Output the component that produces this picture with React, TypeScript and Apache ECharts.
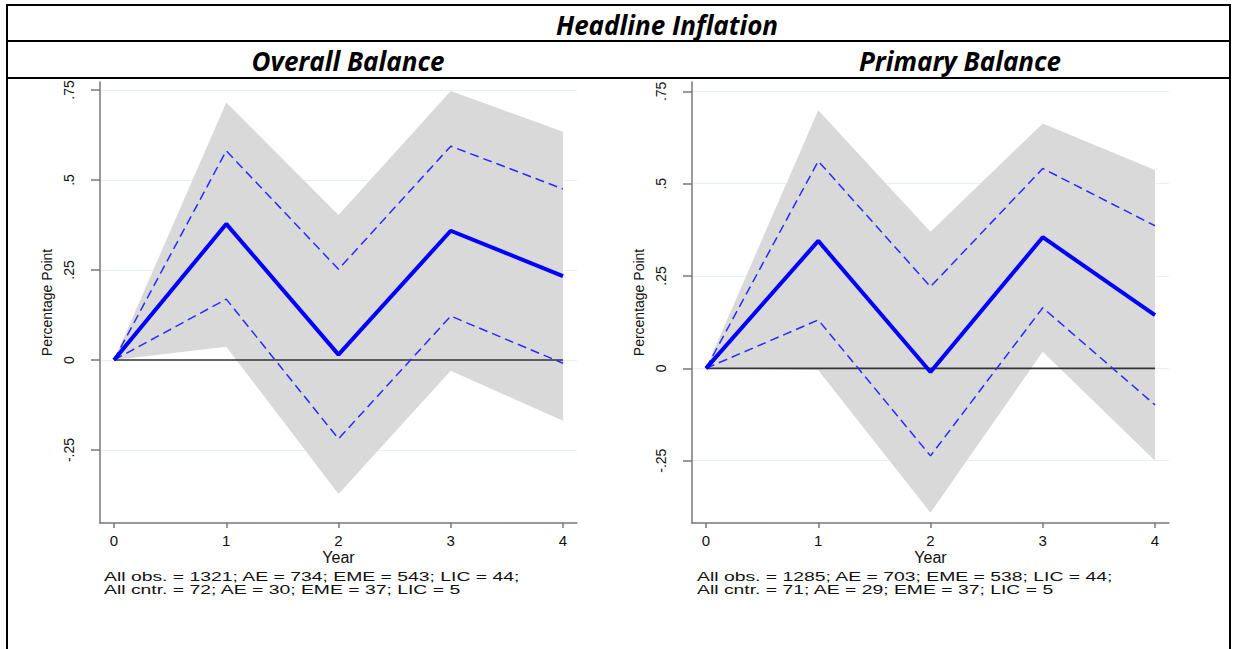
import React, { useEffect, useRef } from "react";
import * as echarts from "echarts";

// ---- data ----
const years = [0, 1, 2, 3, 4];
const yTicks = [-0.25, 0, 0.25, 0.5, 0.75];

const obMain = [0, 0.378, 0.015, 0.359, 0.233];
const obUpper68 = [0, 0.581, 0.252, 0.594, 0.475];
const obLower68 = [0, 0.169, -0.219, 0.122, -0.009];
const obUpper90 = [0, 0.715, 0.403, 0.747, 0.634];
const obLower90 = [0, 0.037, -0.372, -0.03, -0.169];

const pbMain = [0, 0.345, -0.01, 0.355, 0.144];
const pbUpper68 = [0, 0.561, 0.221, 0.541, 0.386];
const pbLower68 = [0, 0.131, -0.237, 0.164, -0.099];
const pbUpper90 = [0, 0.699, 0.37, 0.663, 0.537];
const pbLower90 = [0, -0.005, -0.391, 0.045, -0.25];

const mainTitle = "Headline Inflation";
const panelTitles = ["Overall Balance", "Primary Balance"];
const yAxisName = "Percentage Point";
const xAxisName = "Year";
const notes = [
  ["All obs. = 1321; AE = 734; EME = 543; LIC = 44;", "All cntr. = 72; AE = 30; EME = 37; LIC = 5"],
  ["All obs. = 1285; AE = 703; EME = 538; LIC = 44;", "All cntr. = 71; AE = 29; EME = 37; LIC = 5"],
];

const panels = [
  { main: obMain, up68: obUpper68, lo68: obLower68, up90: obUpper90, lo90: obLower90, yMin: -0.4528, yMax: 0.7722 },
  { main: pbMain, up68: pbUpper68, lo68: pbLower68, up90: pbUpper90, lo90: pbLower90, yMin: -0.4188, yMax: 0.7753 },
];

const SANS = "'Liberation Sans', Arial, sans-serif";
const TITLE_FONT = "'Open Sans', Lato, sans-serif";

function fmtY(v: number) {
  if (v === 0) return "0";
  const s = String(Math.abs(v)).replace(/^0/, "");
  return (v < 0 ? "-" : "") + s;
}

function pts(arr: number[]) {
  return years.map((x, i) => [x, arr[i]]);
}

export default function App() {
  const ref = useRef<HTMLDivElement>(null);
  useEffect(() => {
    document.body.style.margin = "0";
    if (!ref.current) return;
    const chart = echarts.init(ref.current, undefined, { renderer: "svg" });

    const gridLefts = [100, 692];
    const grids = gridLefts.map((l) => ({ left: l, top: 82, width: 477, height: 441 }));

    const xAxes = panels.map((_, i) => ({
      type: "value",
      gridIndex: i,
      min: -0.125,
      max: 4.125,
      name: xAxisName,
      nameLocation: "middle",
      nameGap: 26,
      nameMoveOverlap: false,
      nameTextStyle: { fontFamily: SANS, fontSize: 16, color: "#111", lineHeight: 16 },
      axisLine: { onZero: false, lineStyle: { color: "#777", width: 1.5 } },
      axisTick: { customValues: years, length: 5, lineStyle: { color: "#777", width: 1.5 } },
      axisLabel: { customValues: years, margin: 10, fontFamily: SANS, fontSize: 15, lineHeight: 15, color: "#111" },
      splitLine: { show: false },
    }));

    const yAxes = panels.map((p, i) => ({
      type: "value",
      gridIndex: i,
      min: p.yMin,
      max: p.yMax,
      name: yAxisName,
      nameLocation: "middle",
      nameRotate: 90,
      nameGap: 46,
      nameMoveOverlap: false,
      nameTextStyle: { fontFamily: SANS, fontSize: 14, color: "#111" },
      axisLine: { show: true, onZero: false, lineStyle: { color: "#777", width: 1.5 } },
      axisTick: { show: true, customValues: yTicks, length: 9, lineStyle: { color: "#777", width: 1.5 } },
      axisLabel: { customValues: yTicks, rotate: 90, margin: 24, fontFamily: SANS, fontSize: 14, color: "#111", formatter: (v: number) => fmtY(v) },
      splitLine: { show: true, lineStyle: { color: "#eaf1f2", width: 1 } },
    }));

    const series: any[] = [];
    panels.forEach((p, i) => {
      const base = { xAxisIndex: i, yAxisIndex: i, silent: true };
      series.push({
        ...base,
        type: "custom",
        name: "band-" + i,
        data: years.map((x, k) => [x, p.lo90[k], p.up90[k]]),
        encode: { x: 0, y: [1, 2] },
        clip: true,
        z: 1,
        renderItem: (params: any, api: any) => {
          if (params.dataIndex !== 0) return null;
          const upperPts = years.map((x, k) => api.coord([x, p.up90[k]]));
          const lowerPts = years.map((x, k) => api.coord([x, p.lo90[k]])).reverse();
          return {
            type: "polygon",
            shape: { points: upperPts.concat(lowerPts) },
            style: { fill: "#d9d9d9", stroke: "none" },
          };
        },
      });
      const lineBase = { ...base, type: "line", symbol: "none" };
      series.push({
        ...lineBase,
        name: "zero-" + i,
        data: [[years[0], 0], [years[years.length - 1], 0]],
        lineStyle: { color: "#333", width: 1.6 },
        z: 2,
      });
      series.push({
        ...lineBase,
        name: "up68-" + i,
        data: pts(p.up68),
        lineStyle: { color: "#2a2aff", width: 1.5, type: [9, 5] },
        z: 3,
      });
      series.push({
        ...lineBase,
        name: "lo68-" + i,
        data: pts(p.lo68),
        lineStyle: { color: "#2a2aff", width: 1.5, type: [9, 5] },
        z: 3,
      });
      series.push({
        ...lineBase,
        name: "main-" + i,
        data: pts(p.main),
        lineStyle: { color: "#0000ff", width: 4 },
        z: 4,
      });
    });

    const lineStyle = { stroke: "#000", lineWidth: 2 };
    const titleFont = "italic bold 26px " + TITLE_FONT;
    const graphic: any[] = [
      { type: "line", shape: { x1: 7, y1: 5, x2: 1231, y2: 5 }, style: lineStyle },
      { type: "line", shape: { x1: 7, y1: 41, x2: 1231, y2: 41 }, style: lineStyle },
      { type: "line", shape: { x1: 7, y1: 78, x2: 1231, y2: 78 }, style: lineStyle },
      { type: "line", shape: { x1: 7, y1: 4, x2: 7, y2: 649 }, style: lineStyle },
      { type: "line", shape: { x1: 1230, y1: 4, x2: 1230, y2: 649 }, style: lineStyle },
      {
        type: "text", x: 667, y: 25,
        style: { text: mainTitle, font: titleFont, fill: "#000", textAlign: "center", textVerticalAlign: "middle" },
      },
      {
        type: "text", x: 348, y: 61,
        style: { text: panelTitles[0], font: titleFont, fill: "#000", textAlign: "center", textVerticalAlign: "middle" },
      },
      {
        type: "text", x: 960, y: 61,
        style: { text: panelTitles[1], font: titleFont, fill: "#000", textAlign: "center", textVerticalAlign: "middle" },
      },
    ];
    const noteX = [104, 697];
    notes.forEach((lines, i) => {
      lines.forEach((t, j) => {
        graphic.push({
          type: "text",
          x: noteX[i],
          y: 576 + j * 13,
          scaleX: 1.49,
          style: { text: t, font: "13px " + SANS, fill: "#111", textAlign: "left", textVerticalAlign: "middle" },
        });
      });
    });

    chart.setOption({
      animation: false,
      backgroundColor: "#fff",
      grid: grids,
      xAxis: xAxes,
      yAxis: yAxes,
      series,
      graphic,
    });
    return () => chart.dispose();
  }, []);
  return <div ref={ref} style={{ width: 1233, height: 649 }} />;
}
